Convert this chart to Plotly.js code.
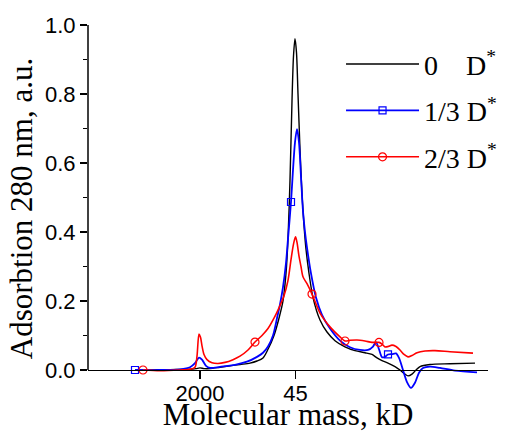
<!DOCTYPE html>
<html>
<head>
<meta charset="utf-8">
<script src="https://cdn.plot.ly/plotly-3.0.1.min.js"></script>
<style>html,body{margin:0;padding:0;background:#fff;}#chart{width:509px;height:432px;}</style>
</head>
<body>
<div id="chart"></div>
<script>
// Elution axis (arbitrary linear units) and absorbance values
const seriesNames = ["0\u00a0\u00a0\u00a0\u00a0D<sup>*</sup>", "1/3 D<sup>*</sup>", "2/3 D<sup>*</sup>"];

const blackX = [2.35,3.1,4.1,5.1,5.4,5.6,5.8,6.1,6.6,7.1,
  7.6,8.1,8.45,8.75,9.0,9.3,9.55,9.75,9.9,10.0,
  10.1,10.2,10.275,10.35,10.425,10.5,10.6,10.7,10.8,10.9,
  11.05,11.25,11.6,11.95,12.35,12.85,13.35,13.85,14.2,14.45,
  14.7,15.0,15.35,15.6,15.85,16.0,16.2,16.4,16.6,17.1,
  18.1,19.35];
const blackY = [0,0,0.001,0.002,0.004,0.006,0.004,0.004,0.008,0.012,
  0.016,0.02,0.026,0.035,0.06,0.1,0.15,0.2,0.28,0.38,
  0.55,0.78,0.91,0.96,0.92,0.8,0.64,0.51,0.42,0.35,
  0.28,0.21,0.145,0.11,0.085,0.067,0.056,0.05,0.045,0.035,
  0.027,0.02,0.01,0.0,-0.012,-0.017,-0.012,0.0,0.01,0.016,
  0.018,0.02];

const blueX = [2.35,3.6,4.6,5.1,5.35,5.55,5.7,5.9,6.1,6.6,
  7.35,7.95,8.45,8.75,9.0,9.25,9.45,9.6,9.75,9.9,
  10.0,10.15,10.25,10.35,10.45,10.55,10.65,10.75,10.85,
  10.95,11.15,11.4,11.7,12.1,12.6,13.1,13.6,14.0,14.25,
  14.4,14.55,14.7,14.85,15.0,15.2,15.4,15.55,15.75,15.95,
  16.15,16.35,16.55,16.75,17.1,17.6,18.35,19.45];
const blueY = [0,0,0.002,0.008,0.02,0.036,0.03,0.012,0.006,0.009,
  0.015,0.024,0.038,0.05,0.068,0.1,0.15,0.19,0.24,0.31,
  0.38,0.487,0.58,0.66,0.698,0.66,0.56,0.46,0.40,
  0.355,0.28,0.21,0.16,0.12,0.085,0.066,0.058,0.058,0.068,
  0.081,0.06,0.037,0.038,0.045,0.046,0.048,0.035,0.0,-0.035,
  -0.052,-0.037,-0.008,0.006,0.01,0.006,-0.002,-0.007];
const blueMarkerX = [2.35, 10.15, 15.0];

const redX = [2.75,3.6,4.6,5.1,5.35,5.45,5.55,5.625,5.7,5.8,
  5.95,6.2,6.5,6.85,7.25,7.6,8.0,8.35,8.7,9.0,
  9.3,9.55,9.8,10.0,10.15,10.275,10.375,10.45,10.55,10.65,
  10.75,10.95,11.2,11.6,12.1,12.6,12.85,13.1,13.45,13.85,
  14.2,14.55,14.7,14.85,15.0,15.2,15.4,15.6,15.8,16.0,
  16.2,16.45,16.85,17.35,18.1,19.25];
const redY = [0,-0.002,0,0.002,0.008,0.04,0.104,0.095,0.07,0.045,
  0.03,0.021,0.019,0.022,0.03,0.04,0.058,0.081,0.1,0.12,
  0.15,0.18,0.215,0.26,0.32,0.365,0.386,0.37,0.33,0.3,
  0.27,0.25,0.22,0.165,0.125,0.096,0.084,0.086,0.087,0.084,
  0.08,0.08,0.075,0.067,0.068,0.072,0.068,0.058,0.045,0.038,
  0.042,0.05,0.055,0.056,0.053,0.049];
const redMarkerX = [2.75, 8.35, 11.2, 12.85, 14.55];

const xTickVals = [5.6, 10.38];
const xTickText = ["2000", "45"];
const yTickVals = [0, 0.2, 0.4, 0.6, 0.8, 1.0];
const yMinorVals = [0.1, 0.3, 0.5, 0.7, 0.9];

const SANS = "Liberation Sans, Arial, sans-serif";
const SERIF = "Liberation Serif, Times New Roman, serif";
const yMin = -0.0638;

function markerColors(xs, marks, color) {
  return xs.map(v => marks.indexOf(v) >= 0 ? color : "rgba(0,0,0,0)");
}

const traces = [
  {x: blackX, y: blackY, type: "scatter", mode: "lines", name: seriesNames[0],
   legendgroup: "a",
   line: {color: "#000000", width: 1.4, shape: "spline", smoothing: 0.8}},
  {x: blueX, y: blueY, type: "scatter", mode: "lines+markers", name: seriesNames[1],
   legendgroup: "b",
   line: {color: "#0000ff", width: 1.8, shape: "spline", smoothing: 0.8},
   marker: {symbol: "square-open", size: 7, color: markerColors(blueX, blueMarkerX, "#0000ff"), line: {width: 1.2}}},
  {x: redX, y: redY, type: "scatter", mode: "lines+markers", name: seriesNames[2],
   legendgroup: "c",
   line: {color: "#ff0000", width: 1.6, shape: "spline", smoothing: 0.8},
   marker: {symbol: "circle-open", size: 8, color: markerColors(redX, redMarkerX, "#ff0000"), line: {width: 1.2}}}
];

const layout = {
  width: 509, height: 432,
  margin: {l: 88, r: 21, t: 25, b: 40, pad: 0, autoexpand: false},
  paper_bgcolor: "#ffffff", plot_bgcolor: "#ffffff",
  showlegend: true,
  legend: {xref: "container", yref: "container", x: 0.67, y: 0.909, xanchor: "left", yanchor: "top",
    bgcolor: "rgba(0,0,0,0)", font: {family: SERIF, size: 28, color: "#000"},
    traceorder: "grouped", tracegroupgap: 7, itemwidth: 73},
  xaxis: {range: [0, 20], anchor: "free", position: (0 - yMin) / (1 - yMin),
    showline: true, linecolor: "#000", linewidth: 1.5, mirror: false,
    showgrid: false, zeroline: false,
    tickmode: "array", tickvals: xTickVals, ticktext: xTickText,
    ticks: "outside", ticklen: 8, tickwidth: 1.5, tickcolor: "#000",
    ticklabelstandoff: -5,
    tickfont: {family: SANS, size: 22, color: "#000"},
    title: {text: "Molecular mass, kD", font: {family: SERIF, size: 31, color: "#000"}, standoff: 4},
    automargin: false},
  yaxis: {range: [yMin, 1], showline: false, showgrid: false, zeroline: false,
    tickmode: "array", tickvals: yTickVals, tickformat: ".1f",
    ticks: "outside", ticklen: 7, tickwidth: 1.5, tickcolor: "#000",
    minor: {tickmode: "array", tickvals: yMinorVals, ticks: "outside", ticklen: 4, tickwidth: 1.5, tickcolor: "#000", showgrid: false},
    tickfont: {family: SANS, size: 22, color: "#000"},
    title: {text: "Adsorbtion 280 nm, a.u.", font: {family: SERIF, size: 31, color: "#000"}, standoff: 3},
    automargin: false},
  shapes: [
    {type: "line", xref: "paper", yref: "y", x0: 0, x1: 0, y0: 0, y1: 1,
     line: {color: "#000", width: 1.5}, layer: "above"}
  ]
};

Plotly.newPlot("chart", traces, layout, {displayModeBar: false, staticPlot: true});
</script>
</body>
</html>
